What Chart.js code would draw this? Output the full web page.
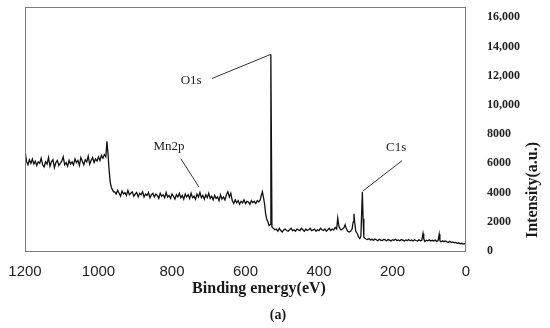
<!DOCTYPE html>
<html>
<head>
<meta charset="utf-8">
<script src="https://cdn.jsdelivr.net/npm/chart.js@4.4.1/dist/chart.umd.min.js"></script>
<style>
html,body{margin:0;padding:0;background:#fff;}
#wrap{width:550px;height:328px;position:relative;}
</style>
</head>
<body>
<div id="wrap"><canvas id="c" width="550" height="328"></canvas></div>
<script>
// ---- data ----
const energy = [
  1200,1196,1192,1188,1184,1180,1176,1172,1168,1164,
  1160,1156,1152,1148,1144,1140,1136,1132,1128,1124,
  1120,1116,1112,1108,1104,1100,1096,1092,1088,1084,
  1080,1076,1072,1068,1064,1060,1056,1052,1048,1044,
  1040,1036,1032,1028,1024,1020,1016,1012,1008,1004,
  1000,996,992,988,984,980,
  977,974,971,968,965,962,959,
  956,952,948,944,940,936,932,928,924,920,
  916,912,908,904,900,896,892,888,884,880,
  876,872,868,864,860,856,852,848,844,840,
  836,832,828,824,820,816,812,808,804,800,
  796,792,788,784,780,776,772,768,764,760,
  756,752,748,744,740,736,732,728,724,720,
  716,712,708,704,700,696,692,688,684,680,
  676,672,668,664,660,656,652,648,644,640,
  636,632,628,624,620,616,612,608,604,600,
  596,592,588,584,580,576,572,568,564,560,
  557,554,551,548,545,542,539,536,533,531,528,
  524,520,516,512,508,504,500,496,492,488,
  484,480,476,472,468,464,460,456,452,448,
  444,440,436,432,428,424,420,416,412,408,
  404,400,396,392,388,384,380,376,372,368,
  364,360,356,352,
  349,346,343,340,336,332,329,326,322,318,314,310,
  307,305,303,300,296,292,289,286,282,280,278,275,
  272,268,264,260,256,252,248,244,240,236,
  232,228,224,220,216,212,208,204,200,196,
  192,188,184,180,176,172,168,164,160,156,
  152,148,144,140,136,132,128,124,120,
  117,115,112,
  108,104,100,96,92,88,84,80,76,
  73,71,68,
  64,60,56,52,48,44,40,36,32,28,24,20,16,12,8,4,0
];
const intensity = [
  6900,6150,5900,6250,6000,6300,5950,6150,5850,6100,
  6000,6350,5900,5750,6100,5950,6400,5800,6100,6250,
  5700,6050,6200,5850,6000,6150,6450,5900,6050,5800,
  6200,5950,6100,5900,6300,6050,6200,5850,6400,6150,
  5900,6250,6100,6500,5950,6200,6400,6050,6300,6150,
  6450,6200,6550,6350,6600,6450,
  7500,6600,5500,4700,4350,4200,4050,
  4050,3900,4150,3950,3750,4100,3900,4000,3800,4150,
  3850,3950,4050,3750,3900,4000,3700,3950,3850,4050,
  3700,3900,3800,4000,3650,3850,3950,3700,3900,3800,
  3600,3950,3750,3850,3650,4000,3700,3800,3600,3900,
  3750,3550,3850,3700,3950,3650,3800,3550,3900,3700,
  3850,3600,3950,3650,3750,3550,3900,3700,4000,3650,
  3800,3550,3850,3650,3950,3600,3750,3500,3800,3600,
  3700,3450,3850,3550,3700,3500,3850,4050,3700,3950,
  3450,3250,3500,3300,3450,3200,3400,3300,3500,3250,
  3400,3350,3200,3450,3300,3400,3250,3450,3350,3500,
  3800,4050,3650,3200,2500,2150,2000,1750,1800,13450,1650,
  1550,1450,1500,1350,1550,1400,1300,1450,1500,1400,
  1350,1450,1550,1400,1450,1350,1500,1450,1400,1550,
  1450,1350,1500,1400,1450,1550,1400,1450,1500,1350,
  1450,1400,1550,1450,1400,1500,1350,1450,1550,1400,
  1500,1450,1600,1500,
  2250,1700,1550,1450,1500,1600,1800,1550,1350,1300,1350,1500,
  2000,2550,2000,1350,1200,950,850,1000,4050,2200,950,880,
  820,780,850,760,800,730,820,770,700,800,
  750,720,790,760,700,780,740,690,770,730,
  800,720,760,700,780,740,690,760,720,780,
  700,750,690,770,720,680,760,700,740,
  1200,850,650,
  740,700,760,680,730,690,750,660,710,
  1150,700,620,
  700,640,690,630,600,660,580,620,560,590,530,560,500,530,470,500,440
];
const xTickValues = [1200,1000,800,600,400,200,0];
const xTickLabels = ['1200','1000','800','600','400','200','0'];
const yTickValues = [0,2000,4000,6000,8000,10000,12000,14000,16000];
const yTickLabels = ['0','2000','4000','6000','8000','10,000','12,000','14,000','16,000'];
const peakNames = ['O1s','Mn2p','C1s'];
const xTitle = 'Binding energy(eV)';
const yTitle = 'Intensity(a.u.)';
const panelTag = '(a)';

// annotation placement (data coordinates)
const annot = {
  label: [[748,11670],[808,7140],[190,7070]],
  from:  [[691,11810],[776,6320],[174,6180]],
  to:    [[531,13460],[727,4390],[280,4120]]
};

const points = energy.map((e,i)=>({x:e,y:intensity[i]}));

const extras = {
  id:'extras',
  afterDraw(chart){
    const ctx = chart.ctx, a = chart.chartArea;
    const xs = chart.scales.x, ys = chart.scales.y;
    ctx.save();
    // frame
    ctx.strokeStyle = '#7a7a7a';
    ctx.lineWidth = 1;
    ctx.strokeRect(Math.round(a.left)+0.5, Math.round(a.top)+0.5,
                   Math.round(a.right-a.left)-1, Math.round(a.bottom-a.top));
    // annotations
    ctx.strokeStyle = '#333';
    ctx.lineWidth = 1;
    ctx.fillStyle = '#222';
    ctx.font = '13px "Liberation Serif", serif';
    ctx.textAlign = 'center';
    ctx.textBaseline = 'middle';
    peakNames.forEach((n,i)=>{
      const L = annot.label[i], F = annot.from[i], T = annot.to[i];
      ctx.fillText(n, xs.getPixelForValue(L[0]), ys.getPixelForValue(L[1]));
      ctx.beginPath();
      ctx.moveTo(xs.getPixelForValue(F[0]), ys.getPixelForValue(F[1]));
      ctx.lineTo(xs.getPixelForValue(T[0]), ys.getPixelForValue(T[1]));
      ctx.stroke();
    });
    // axis titles
    ctx.fillStyle = '#1a1a1a';
    ctx.font = 'bold 16px "Liberation Serif", serif';
    ctx.fillText(xTitle, 259, 289);
    ctx.font = 'bold 14px "Liberation Serif", serif';
    ctx.fillText(panelTag, 278, 315);
    ctx.translate(533, 190);
    ctx.rotate(-Math.PI/2);
    ctx.font = 'bold 16px "Liberation Serif", serif';
    ctx.fillText(yTitle, 0, 0);
    ctx.restore();
  }
};

new Chart(document.getElementById('c'), {
  type:'line',
  data:{datasets:[{
    data:points,
    borderColor:'#111',
    borderWidth:1.3,
    pointRadius:0,
    tension:0,
    fill:false
  }]},
  options:{
    responsive:false,
    animation:false,
    layout:{autoPadding:false, padding:{left:25,top:7,right:0,bottom:0}},
    plugins:{legend:{display:false},tooltip:{enabled:false}},
    scales:{
      x:{
        type:'linear', reverse:true, min:0, max:1200,
        afterBuildTicks(s){ s.ticks = xTickValues.map(v=>({value:v})); },
        afterFit(s){ s.height = 77; s.paddingLeft = 0; s.paddingRight = 0; },
        grid:{display:false, drawTicks:false},
        border:{display:false},
        ticks:{padding:12, color:'#222', maxRotation:0, autoSkip:false,
               callback:(v)=>{ const i = xTickValues.indexOf(v); return i>=0 ? xTickLabels[i] : ''; },
               font:{family:'"Liberation Sans", Arial, sans-serif', size:15}}
      },
      y:{
        type:'linear', position:'right', min:0, max:16700,
        afterBuildTicks(s){ s.ticks = yTickValues.map(v=>({value:v})); },
        afterFit(s){ s.width = 84; s.paddingTop = 0; s.paddingBottom = 0; },
        grid:{display:false, drawTicks:false},
        border:{display:false},
        ticks:{padding:21, color:'#222',
               callback:(v)=>{ const i = yTickValues.indexOf(v); return i>=0 ? yTickLabels[i] : ''; },
               font:{family:'"Liberation Serif", serif', size:12, weight:'bold'}}
      }
    }
  },
  plugins:[extras]
});
</script>
</body>
</html>
